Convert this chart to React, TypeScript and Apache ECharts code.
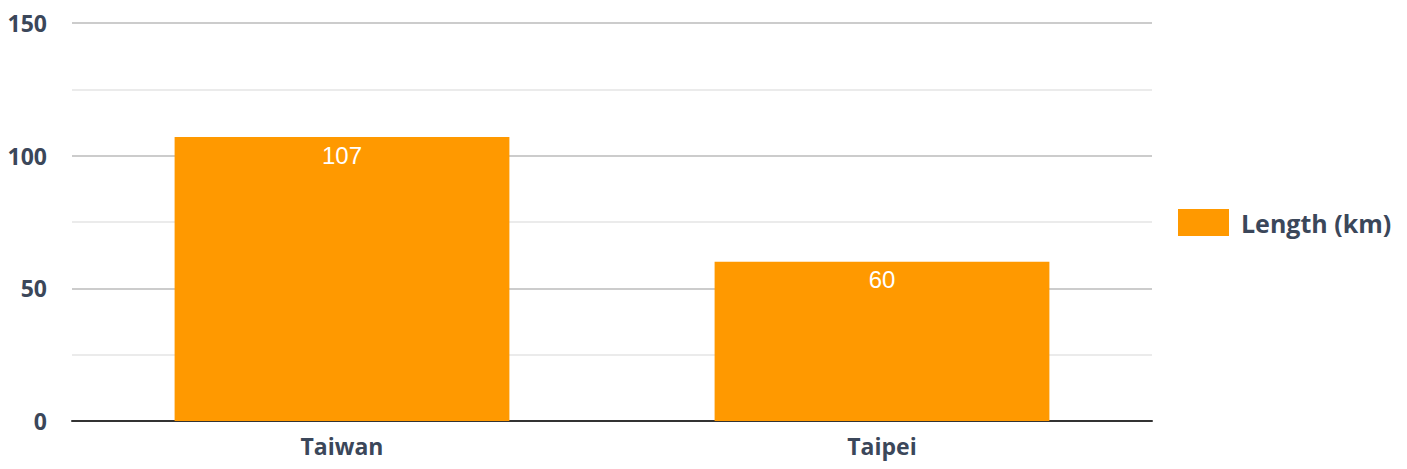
import React, { useEffect, useRef } from "react";
import * as echarts from "echarts";

const categories = ["Taiwan", "Taipei"];
const lengthKm = [107, 60];
const seriesName = "Length (km)";
const yTicks = { min: 0, max: 150, interval: 50 };

export default function App() {
  const ref = useRef<HTMLDivElement>(null);
  useEffect(() => {
    document.body.style.margin = "0";
    const chart = echarts.init(ref.current!, null, { renderer: "svg" });
    const textColor = "#3b475a";
    const font = "Open Sans";
    chart.setOption({
      animation: false,
      backgroundColor: "#ffffff",
      grid: { left: 72, right: 255, top: 23, bottom: 48, containLabel: false },
      legend: {
        show: true,
        orient: "vertical",
        left: 1173,
        top: 204,
        itemWidth: 51,
        itemHeight: 27,
        itemGap: 10,
        icon: "rect",
        textStyle: { color: textColor, fontFamily: font, fontWeight: "bold", fontSize: 25, padding: [0, 0, 0, 7] },
        data: [seriesName],
      },
      xAxis: {
        type: "category",
        data: categories,
        axisLine: { show: true, lineStyle: { color: "#333333", width: 2 } },
        axisTick: { show: false },
        axisLabel: { color: textColor, fontFamily: font, fontWeight: "bold", fontSize: 23, margin: 13 },
        splitLine: { show: false },
      },
      yAxis: {
        type: "value",
        min: yTicks.min,
        max: yTicks.max,
        interval: yTicks.interval,
        axisLine: { show: false },
        axisTick: { show: false },
        axisLabel: { color: textColor, fontFamily: font, fontWeight: "bold", fontSize: 23, margin: 25 },
        splitLine: { show: true, lineStyle: { color: "#cccccc", width: 2 } },
        minorTick: { show: false, splitNumber: 2 },
        minorSplitLine: { show: true, lineStyle: { color: "#ebebeb", width: 2 } },
      },
      series: [
        {
          name: seriesName,
          type: "bar",
          data: lengthKm,
          barWidth: "62%",
          itemStyle: { color: "#ff9900" },
          label: {
            show: true,
            position: "insideTop",
            distance: 6,
            color: "#ffffff",
            fontFamily: "Liberation Sans",
            fontSize: 24,
          },
        },
      ],
    });
    return () => chart.dispose();
  }, []);
  return <div ref={ref} style={{ width: 1407, height: 469 }} />;
}
